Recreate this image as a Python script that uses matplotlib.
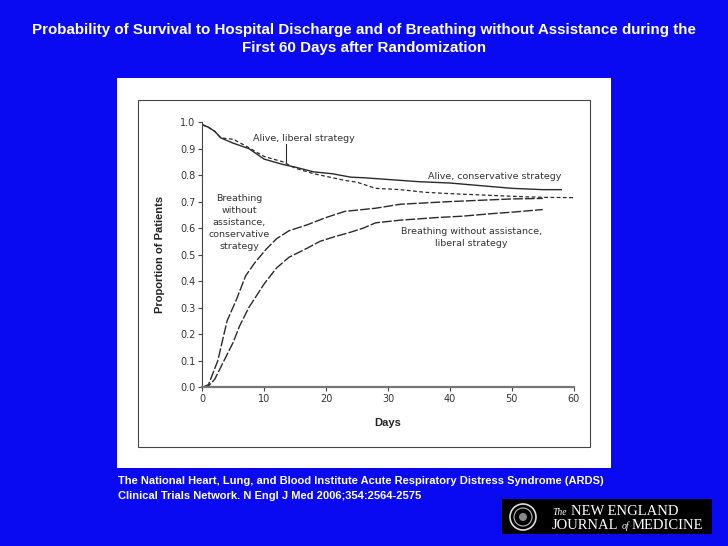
import matplotlib
matplotlib.use("Agg")
import matplotlib.pyplot as plt
from matplotlib.patches import Rectangle, Circle

W, H = 728, 546
BLUE = "#0a0af2"
INK = "#2a2a2a"

# data
days_alive_cons = [0, 1, 2, 3, 5, 7.5, 10, 13, 15, 18, 21, 24, 26, 29, 32, 35, 40, 45, 50, 55, 58]
alive_cons = [0.99, 0.98, 0.965, 0.94, 0.92, 0.90, 0.86, 0.84, 0.83, 0.812, 0.805, 0.792, 0.79, 0.785, 0.78, 0.775, 0.77, 0.76, 0.75, 0.745, 0.745]

days_alive_lib = [0, 1, 2, 3, 5, 7, 10, 13, 15, 18, 20, 23, 25, 28, 32, 36, 40, 45, 50, 55, 60]
alive_lib = [0.99, 0.98, 0.965, 0.94, 0.935, 0.91, 0.87, 0.85, 0.826, 0.805, 0.795, 0.78, 0.773, 0.75, 0.745, 0.735, 0.73, 0.725, 0.72, 0.716, 0.715]

days_breath_cons = [0, 1, 2.5, 4, 5.5, 7, 8.5, 10.3, 12, 14, 17, 20, 23, 28, 32, 40, 45, 50, 55]
breath_cons = [0.0, 0.01, 0.10, 0.25, 0.33, 0.42, 0.47, 0.52, 0.56, 0.59, 0.613, 0.64, 0.663, 0.675, 0.69, 0.70, 0.705, 0.71, 0.712]

days_breath_lib = [0, 1, 2, 3.5, 5, 6, 7.5, 10, 12, 14, 17, 19, 21, 24, 26, 28, 32, 38, 42, 47, 50, 55]
breath_lib = [0.0, 0.005, 0.03, 0.10, 0.17, 0.23, 0.30, 0.39, 0.45, 0.49, 0.525, 0.55, 0.565, 0.585, 0.60, 0.62, 0.63, 0.64, 0.645, 0.655, 0.66, 0.67]

y_ticks = [0.0, 0.1, 0.2, 0.3, 0.4, 0.5, 0.6, 0.7, 0.8, 0.9, 1.0]
x_ticks = [0, 10, 20, 30, 40, 50, 60]


def px(x, y):
    return x / W, 1 - y / H


fig = plt.figure(figsize=(7.28, 5.46), dpi=100, facecolor=BLUE)

# white panel + inner frame
fig.patches.append(Rectangle(px(117, 468), 494 / W, 390 / H, transform=fig.transFigure,
                             facecolor="white", edgecolor="none", zorder=0))
fig.patches.append(Rectangle(px(138, 447), 452 / W, 347 / H, transform=fig.transFigure,
                             facecolor="none", edgecolor="#444444", linewidth=0.8, zorder=1))

l, b = px(202.3, 387.3)
r, t = px(573.7, 122)
ax = fig.add_axes([l, b, r - l, t - b], zorder=5)
ax.set_facecolor("none")

ax.plot(days_alive_cons, alive_cons, color=INK, lw=1.0, ls="-")
ax.plot(days_alive_lib, alive_lib, color=INK, lw=0.9, ls=(0, (3, 2)))
ax.plot(days_breath_cons, breath_cons, color=INK, lw=1.0, ls=(0, (7, 1.5)))
ax.plot(days_breath_lib, breath_lib, color=INK, lw=1.0, ls=(0, (7, 1.5)))

ax.set_xlim(0, 60)
ax.set_ylim(0, 1.0)
ax.set_xticks(x_ticks)
ax.set_yticks(y_ticks)
ax.set_yticklabels(["%.1f" % v for v in y_ticks])
for s in ["top", "right"]:
    ax.spines[s].set_visible(False)
ax.spines["left"].set_color("#444444")
ax.spines["left"].set_linewidth(0.8)
ax.spines["bottom"].set_color("#777777")
ax.spines["bottom"].set_linewidth(1.6)
ax.tick_params(direction="out", length=3, width=0.8, colors="#444444",
               labelsize=7, labelcolor="#333333", pad=2)

ax.set_xlabel("Days", fontsize=8, fontweight="bold", color="#222222", labelpad=10,
              family="Liberation Sans")
ax.set_ylabel("Proportion of Patients", fontsize=8, fontweight="bold", color="#222222", labelpad=11,
              family="Liberation Sans")

tk = dict(fontsize=6.8, color="#333333", ha="center", va="center")
ax.text(16.4, 0.937, "Alive, liberal strategy", **tk)
ax.plot([13.6, 13.6], [0.917, 0.845], color=INK, lw=0.8)
ax.text(47.2, 0.795, "Alive, conservative strategy", **tk)
ax.text(6.0, 0.621, "Breathing\nwithout\nassistance,\nconservative\nstrategy", linespacing=1.45, **tk)
ax.text(43.5, 0.565, "Breathing without assistance,\nliberal strategy", linespacing=1.35, **tk)

# title
fig.text(*px(364, 30), "Probability of Survival to Hospital Discharge and of Breathing without Assistance during the",
         ha="center", va="center", color="white", fontsize=10.9, fontweight="bold", family="Liberation Sans")
fig.text(*px(364, 48), "First 60 Days after Randomization",
         ha="center", va="center", color="white", fontsize=10.9, fontweight="bold", family="Liberation Sans")

# citation
fig.text(*px(118, 481), "The National Heart, Lung, and Blood Institute Acute Respiratory Distress Syndrome (ARDS)",
         ha="left", va="center", color="white", fontsize=8, fontweight="bold", family="Liberation Sans")
fig.text(*px(118, 496), "Clinical Trials Network. N Engl J Med 2006;354:2564-2575",
         ha="left", va="center", color="white", fontsize=8, fontweight="bold", family="Liberation Sans")

# journal logo
fig.patches.append(Rectangle(px(502, 534), 210 / W, 35 / H, transform=fig.transFigure,
                             facecolor="black", edgecolor="none", zorder=2))
seal = (523, H - 517)
fig.patches.append(Circle(seal, 13, transform=None,
                          facecolor="none", edgecolor="#dddddd", linewidth=1.2, zorder=3))
fig.patches.append(Circle(seal, 9, transform=None,
                          facecolor="none", edgecolor="#bbbbbb", linewidth=0.8, zorder=3))
fig.patches.append(Circle(seal, 4, transform=None,
                          facecolor="#888888", edgecolor="none", zorder=3))
logo = dict(ha="left", va="baseline", color="white", family="Liberation Serif", zorder=6,
            textcoords="offset points", annotation_clip=False)
base1 = H - 515
base2 = H - 529
t1 = fig.text(*px(552, 515), "The", fontsize=7, style="italic", ha="left", va="baseline",
              color="white", family="Liberation Serif", zorder=6)
ax.annotate("NEW ENGLAND", xy=(1, base1), xycoords=(t1, "figure pixels"), xytext=(3, 0),
            fontsize=10.5, **logo)
t2 = fig.text(*px(552, 529), "JOURNAL", fontsize=10.5, ha="left", va="baseline",
              color="white", family="Liberation Serif", zorder=6)
t3 = ax.annotate("of", xy=(1, base2), xycoords=(t2, "figure pixels"), xytext=(2, 0),
                 fontsize=7, style="italic", **logo)
ax.annotate("MEDICINE", xy=(1, base2), xycoords=(t3, "figure pixels"), xytext=(2, 0),
            fontsize=10.5, **logo)

fig.savefig("out.png", dpi=100, facecolor=BLUE)
